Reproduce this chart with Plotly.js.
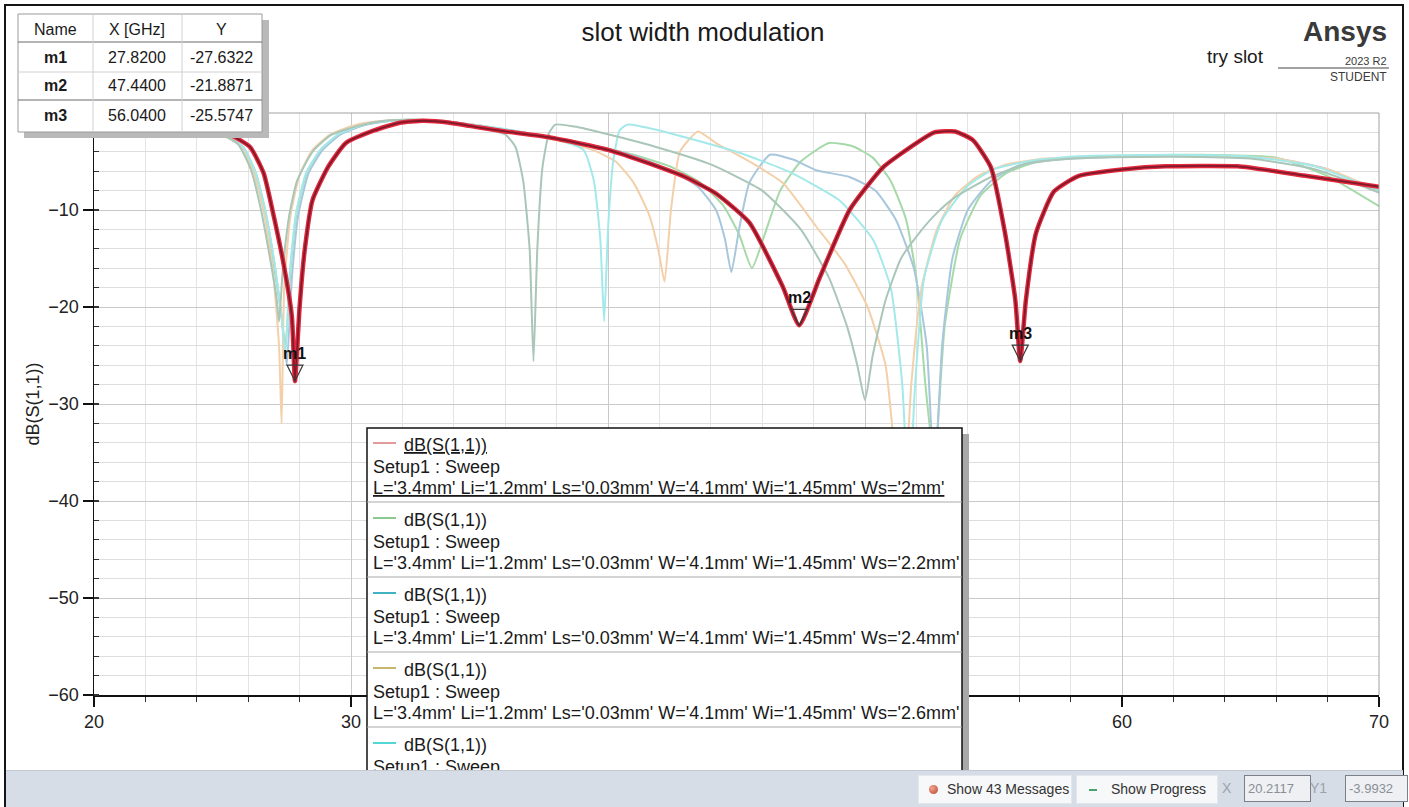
<!DOCTYPE html>
<html>
<head>
<meta charset="utf-8">
<script src="https://cdn.plot.ly/plotly-3.0.1.min.js"></script>
<style>
  html, body { margin: 0; padding: 0; background: #fff; }
  #wrap { position: relative; width: 1409px; height: 807px; overflow: hidden;
          font-family: "Liberation Sans", Arial, sans-serif; }
  #chart { position: absolute; left: 0; top: 0; width: 1409px; height: 807px; }
  #frame { position: absolute; left: 4px; top: 4px; width: 1396px; height: 820px;
           border: 2px solid #151515; pointer-events: none; }
  #status { position: absolute; left: 6px; top: 770px; width: 1397px; height: 37px;
            background: #d6dde6; border-top: 1px solid #c3cad3; }
  .btn { position: absolute; top: 4px; height: 27px; background: #f7f8fa;
         border: 1px solid #e3e6ea; font-size: 14px; color: #333; line-height: 27px; }
  .dot { position: absolute; left: 10px; top: 9px; width: 9px; height: 9px; border-radius: 50%;
         background: radial-gradient(circle at 35% 35%, #f2a58e, #b8432c); }
  .dash { position: absolute; left: 12px; top: 13px; width: 8px; height: 2px; background: #4aa36c; }
  .lbl { position: absolute; top: 4px; height: 27px; line-height: 27px; font-size: 14px; color: #9aa3ad; }
  .val { position: absolute; top: 4px; height: 25px; line-height: 25px; font-size: 13px; color: #8a8f95;
         background: #eef0f3; border: 1px solid #7b8088; padding-left: 3px; overflow: hidden; }
</style>
</head>
<body>
<div id="wrap">
  <div id="chart"></div>
  <div id="frame"></div>
  <div id="status">
    <div class="btn" style="left:912px;width:152px;"><span class="dot"></span><span style="position:absolute;left:28px;">Show 43 Messages</span></div>
    <div class="btn" style="left:1070px;width:140px;"><span class="dash"></span><span style="position:absolute;left:34px;">Show Progress</span></div>
    <div class="lbl" style="left:1216px;">X</div>
    <div class="val" style="left:1238px;width:62px;">20.2117</div>
    <div class="lbl" style="left:1304px;">Y1</div>
    <div class="val" style="left:1339px;width:58px;">-3.9932</div>
  </div>
</div>
<script>
// ---- S11 sweep data: frequency (GHz) and dB(S(1,1)) per slot width Ws ----
const wsLabels = ['2mm', '2.2mm', '2.4mm', '2.6mm', '2.8mm', '3mm'];

const fWs20 = [20, 22, 24, 25.2, 26.07, 26.6, 27.0, 27.4, 27.7, 27.82, 28.0, 28.2, 28.5, 29.1, 29.8, 30.9, 31.9, 32.8, 33.85, 35, 36, 37.7, 39, 40, 41.6, 43, 44.2, 45.5, 46.8, 47.44, 48.25, 49.4, 50.7, 52.0, 52.7, 53.5, 54.2, 54.9, 55.45, 55.85, 56.04, 56.26, 56.65, 57.35, 58.3, 60.1, 61.7, 64.5, 67.2, 70];
const sWs20 = [-0.6, -0.8, -1.2, -2.1, -3.5, -6.2, -10.7, -15.9, -21, -27.6322, -20, -14.1, -9, -5.6, -3.1, -1.8, -1.0, -0.8, -1.0, -1.5, -1.9, -2.5, -3.2, -3.8, -5.2, -6.6, -8.3, -11.3, -17.9, -21.8871, -16.9, -10, -5.6, -3.1, -2.0, -1.9, -2.8, -5.6, -12.4, -19.3, -25.5747, -19.3, -12.4, -8.1, -6.5, -5.8, -5.5, -5.5, -6.5, -7.6];

const fWs22 = [20, 22, 24, 24.8, 25.7, 26.2, 26.6, 26.95, 27.25, 27.45, 27.65, 27.9, 28.3, 28.9, 29.6, 30.6, 31.6, 32.6, 33.8, 35, 36.5, 38, 39.5, 41, 42.5, 43.6, 44.5, 45.1, 45.6, 46.1, 46.7, 47.5, 48.6, 49.5, 50.3, 51, 51.6, 52.0, 52.35, 52.7, 53.1, 53.7, 54.5, 55.5, 56.6, 58, 60, 63, 66, 68, 70];
const sWs22 = [-0.5, -0.7, -1.1, -2.0, -3.4, -6, -10, -15, -20, -24, -16, -10, -6, -3.6, -2.1, -1.2, -0.8, -0.7, -0.9, -1.3, -1.9, -2.6, -3.4, -4.3, -5.6, -7.2, -9.6, -12.5, -16.0, -12.5, -8, -5, -3.1, -3.4, -4.6, -7, -11, -17, -28, -36, -22, -13, -8.5, -6.2, -5.1, -4.6, -4.4, -4.3, -4.6, -6.5, -9.6];

const fWs24 = [20, 22, 24, 24.9, 25.8, 26.3, 26.7, 27.05, 27.3, 27.5, 27.7, 27.95, 28.35, 28.9, 29.6, 30.6, 31.6, 32.6, 33.8, 35, 36.5, 38, 39.5, 41, 42.5, 43.5, 44.2, 44.55, 44.8, 45.1, 45.5, 46.3, 47.2, 48.1, 49.4, 50.4, 51.2, 51.9, 52.4, 52.7, 53.0, 53.4, 54, 54.9, 56, 57.5, 60, 63, 66, 68, 70];
const sWs24 = [-0.5, -0.7, -1.1, -2.0, -3.5, -6.2, -10.5, -16, -21, -26, -17, -10.5, -6.2, -3.8, -2.2, -1.2, -0.8, -0.7, -0.9, -1.3, -1.9, -2.6, -3.4, -4.4, -6.0, -7.6, -10, -13, -16.4, -12, -7.2, -4.3, -4.8, -5.9, -6.6, -8, -11, -16, -24, -38, -24, -15, -10, -7, -5.4, -4.8, -4.5, -4.4, -4.7, -5.8, -8.2];

const fWs26 = [20, 22, 24, 24.8, 25.7, 26.2, 26.6, 26.95, 27.2, 27.3, 27.4, 27.65, 28.0, 28.5, 29.2, 30.2, 31.3, 32.4, 33.6, 35, 36.5, 38, 39.4, 40.3, 41.0, 41.6, 41.95, 42.2, 42.45, 42.8, 43.5, 44.2, 45.5, 46.8, 48.1, 49.2, 50.1, 50.8, 51.2, 51.5, 51.8, 52.2, 52.8, 53.5, 54.4, 55.5, 57, 60, 63, 66, 68, 70];
const sWs26 = [-0.5, -0.7, -1.1, -2.0, -3.4, -6, -10, -16, -24, -32, -18, -10.5, -6.4, -3.8, -2.2, -1.2, -0.8, -0.7, -0.9, -1.3, -2.0, -2.8, -3.8, -5, -7.2, -10.5, -14, -17.4, -10, -4, -1.9, -3.1, -5, -7.2, -11.7, -15.5, -20, -26, -36, -40, -28, -18, -12, -8.5, -6.5, -5.3, -4.7, -4.5, -4.4, -4.7, -5.8, -8.0];

const fWs28 = [20, 22, 24, 24.9, 25.8, 26.3, 26.7, 27.05, 27.3, 27.45, 27.6, 27.85, 28.25, 28.8, 29.5, 30.5, 31.5, 32.5, 33.7, 35, 36.5, 38, 39.05, 39.45, 39.7, 39.85, 40.0, 40.2, 40.45, 40.75, 42, 43, 45, 47, 49, 50.3, 51, 51.45, 51.7, 51.95, 52.3, 53, 54, 55, 56.3, 58, 62, 65, 67.5, 70];
const sWs28 = [-0.5, -0.7, -1.1, -2.0, -3.5, -6.2, -10.5, -16, -21, -25, -17, -10.5, -6.2, -3.8, -2.2, -1.2, -0.8, -0.7, -0.9, -1.3, -1.9, -2.7, -3.8, -7, -13, -21.5, -12, -5, -1.8, -1.2, -1.8, -2.5, -4, -6, -9, -13, -18, -28, -40, -28, -17, -11, -7.5, -5.8, -5.0, -4.5, -4.3, -4.5, -5.5, -8.0];

const fWs30 = [20, 22, 24, 24.7, 25.6, 26.1, 26.5, 26.85, 27.1, 27.2, 27.35, 27.6, 27.9, 28.5, 29.2, 30.3, 31.3, 32.3, 33.5, 34.5, 35.3, 36.0, 36.4, 36.7, 36.95, 37.1, 37.25, 37.45, 37.7, 37.95, 38.7, 40, 42, 44, 46, 47.5, 48.6, 49.3, 49.7, 50.0, 50.3, 50.8, 51.4, 52.1, 52.8, 53.5, 54.2, 54.9, 56.3, 57.6, 59, 62, 65, 67.5, 70];
const sWs30 = [-0.5, -0.6, -1.0, -1.8, -3.2, -5.8, -10, -15, -19, -21.5, -16, -10.5, -7, -4, -2.3, -1.3, -0.8, -0.7, -0.9, -1.2, -1.7, -2.2, -3.5, -7, -14, -25.6, -14, -5.6, -2.1, -1.2, -1.4, -2.2, -3.6, -5.3, -8, -12, -17, -22, -26, -29.6, -25, -19.3, -15, -12.4, -10.3, -8.7, -7.6, -6.6, -5.2, -4.8, -4.6, -4.5, -4.7, -5.8, -8.2];

// marker readouts
const markerNames = ['m1', 'm2', 'm3'];
const markerX = [27.82, 47.44, 56.04];
const markerY = [-27.6322, -21.8871, -25.5747];

// x tick labels (40 and 50 sit under the trace legend)
const xTickVals = [20, 30, 40, 50, 60, 70];
const xTickText = ['20', '30', '', '', '60', '70'];

// ---- styling ----
const FONT = 'Liberation Sans, Arial, sans-serif';
const fadedColors = ['#a6d9a8', '#a8c7dc', '#f3d0aa', '#a4e9e9', '#a9c6b8'];
const legendIconColors = ['#e39a9a', '#8cc98e', '#3fb2c6', '#c8b66e', '#52d7d7', '#9cbcb0'];
const params = "L='3.4mm' Li='1.2mm' Ls='0.03mm' W='4.1mm' Wi='1.45mm' Ws=";

// plot area in pixels: x 94..1379, y 113..695
const L = 94, R = 1379, T = 113, B = 695;
const STATUS_TOP = 770;
const px = v => (v - L) / (R - L);
const py = v => (B - v) / (B - T);

const series = [
  [fWs22, sWs22], [fWs24, sWs24], [fWs26, sWs26], [fWs28, sWs28], [fWs30, sWs30]
];

const traces = [];
series.forEach((s, i) => {
  traces.push({
    x: s[0], y: s[1], type: 'scatter', mode: 'lines', name: "Ws='" + wsLabels[i + 1] + "'",
    line: { color: fadedColors[i], width: 2, shape: 'spline', smoothing: 0.5 },
    hoverinfo: 'x+y'
  });
});
// selected trace: bright halo with dark core
traces.push({
  x: fWs20, y: sWs20, type: 'scatter', mode: 'lines', name: "Ws='2mm'", showlegend: false,
  line: { color: '#e4283d', width: 4.5, shape: 'spline', smoothing: 0.5 }, hoverinfo: 'skip'
});
traces.push({
  x: fWs20, y: sWs20, type: 'scatter', mode: 'lines', name: "Ws='2mm'",
  line: { color: '#7e1a2a', width: 1.8, shape: 'spline', smoothing: 0.5 }
});

const shapes = [];
const annotations = [];
function note(xp, yp, text, size, opts) {
  annotations.push(Object.assign({
    x: px(xp), y: py(yp), xref: 'paper', yref: 'paper', text: text, showarrow: false,
    xanchor: 'center', yanchor: 'middle', font: { family: FONT, size: size, color: '#1a1a1a' }
  }, opts || {}));
}
function hline(x0, x1, y, color, w) {
  shapes.push({ type: 'line', xref: 'paper', yref: 'paper', x0: px(x0), x1: px(x1), y0: py(y), y1: py(y), line: { color: color, width: w }, layer: 'above' });
}
function vline(x, y0, y1, color, w) {
  shapes.push({ type: 'line', xref: 'paper', yref: 'paper', x0: px(x), x1: px(x), y0: py(y0), y1: py(y1), line: { color: color, width: w }, layer: 'above' });
}
function box(x0, y0, x1, y1, fill, lineColor, w) {
  shapes.push({ type: 'rect', xref: 'paper', yref: 'paper', x0: px(x0), x1: px(x1), y0: py(y1), y1: py(y0), fillcolor: fill, line: { color: lineColor || fill, width: w || 0 }, layer: 'above' });
}

// plot border (top / right)
hline(L, R, T, '#a0a0a0', 1);
vline(R, T, B, '#a0a0a0', 1);

// marker glyphs and labels
markerX.forEach((mx, i) => {
  shapes.push({
    type: 'path', xref: 'x', yref: 'y', xsizemode: 'pixel', ysizemode: 'pixel',
    xanchor: mx, yanchor: markerY[i], path: 'M -8 16 L 8 16 L 0 0 Z',
    line: { color: '#3a3a3a', width: 1.2 }, fillcolor: 'rgba(0,0,0,0)', layer: 'above'
  });
  annotations.push({
    x: mx, y: markerY[i], xref: 'x', yref: 'y', text: '<b>' + markerNames[i] + '</b>',
    showarrow: false, xanchor: 'center', yanchor: 'middle', yshift: 28,
    font: { family: FONT, size: 16, color: '#111' }
  });
});

// marker table (top-left)
box(24, 20, 269, 138, '#b9b9b9');
box(18, 14, 262, 132, '#ffffff', '#9a9a9a', 1);
hline(18, 262, 42, '#6a6a6a', 1);
hline(18, 262, 72, '#d0d0d0', 1);
hline(18, 262, 100, '#6a6a6a', 1);
vline(93, 14, 132, '#d0d0d0', 1);
vline(182, 14, 132, '#d0d0d0', 1);
const colCenters = [55, 137, 221];
['Name', 'X [GHz]', 'Y'].forEach((h, j) => note(colCenters[j], 29, h, 16));
const rowCenters = [58, 86, 115];
markerNames.forEach((n, i) => {
  note(colCenters[0], rowCenters[i], '<b>' + n + '</b>', 16);
  note(colCenters[1], rowCenters[i], markerX[i].toFixed(4), 16);
  note(colCenters[2], rowCenters[i], markerY[i].toFixed(4), 16);
});

// trace legend box (its lower part runs under the status bar)
const lg = { x0: 367, x1: 962, y0: 428, y1: 900, step: 75 };
box(lg.x1, lg.y0 + 6, lg.x1 + 7, lg.y1, '#a8a8a8');
box(lg.x0, lg.y0, lg.x1, lg.y1, '#ffffff', '#111', 1.5);
wsLabels.forEach((w, k) => {
  const base = lg.y0 + k * lg.step;
  if (base > STATUS_TOP) return;
  if (k > 0) hline(lg.x0, lg.x1, base - 1, '#a9a9a9', 1);
  hline(373, 396, base + 15, legendIconColors[k], 2);
  const u = k === 0;
  note(402, base + 17, u ? '<u>dB(S(1,1))</u>' : 'dB(S(1,1))', 18, { xanchor: 'left' });
  if (base + 39 < STATUS_TOP + 6) note(371, base + 39, 'Setup1 : Sweep', 18, { xanchor: 'left' });
  const p = params + "'" + w + "'";
  if (base + 60 < STATUS_TOP) note(371, base + 60, u ? '<u>' + p + '</u>' : p, 18, { xanchor: 'left' });
});

// branding, top-right
note(1389, 31, '<b>Ansys</b>', 28, { xanchor: 'right', font: { family: FONT, size: 28, color: '#3a3a3a' } });
note(1389, 61, '2023 R2', 11, { xanchor: 'right', font: { family: FONT, size: 11, color: '#3a3a3a' } });
note(1389, 77, 'STUDENT', 12, { xanchor: 'right', font: { family: FONT, size: 12, color: '#3a3a3a' } });
hline(1278, 1389, 68, '#444', 1);
note(1266, 57, 'try slot', 19, { xanchor: 'right' });

const layout = {
  width: 1409, height: 807,
  margin: { l: L, r: 1409 - R, t: T, b: 807 - B, pad: 0 },
  paper_bgcolor: '#ffffff', plot_bgcolor: '#ffffff',
  showlegend: false,
  title: { text: 'slot width modulation', x: 703 / 1409, xref: 'container', xanchor: 'center',
           y: 1 - 32 / 807, yref: 'container', yanchor: 'middle',
           font: { family: FONT, size: 26, color: '#1a1a1a' } },
  font: { family: FONT, size: 18, color: '#222' },
  xaxis: {
    range: [20, 70], tickvals: xTickVals, ticktext: xTickText, ticks: 'outside', ticklen: 10, tickwidth: 1.2, tickcolor: '#111',
    showline: true, linecolor: '#111', linewidth: 1.5, zeroline: false,
    showgrid: true, gridcolor: '#c9c9c9', gridwidth: 1,
    minor: { dtick: 2, tick0: 20, ticks: 'outside', ticklen: 5, tickcolor: '#333', showgrid: true, gridcolor: '#e4e4e4', gridwidth: 1 },
    tickfont: { family: FONT, size: 18, color: '#222' }, fixedrange: true
  },
  yaxis: {
    range: [-60, 0], tickvals: [-60, -50, -40, -30, -20, -10], ticks: 'outside', ticklen: 10, tickwidth: 1.2, tickcolor: '#111',
    showline: true, linecolor: '#111', linewidth: 1.5, zeroline: false,
    showgrid: true, gridcolor: '#c9c9c9', gridwidth: 1,
    minor: { dtick: 2, tick0: 0, ticks: 'inside', ticklen: 5, tickcolor: '#333', showgrid: true, gridcolor: '#dedede', gridwidth: 1 },
    tickfont: { family: FONT, size: 18, color: '#222' },
    title: { text: 'dB(S(1,1))', font: { family: FONT, size: 18, color: '#222' }, standoff: 4 },
    fixedrange: true
  },
  shapes: shapes,
  annotations: annotations
};

Plotly.newPlot('chart', traces, layout, { displayModeBar: false, staticPlot: true });
</script>
</body>
</html>
